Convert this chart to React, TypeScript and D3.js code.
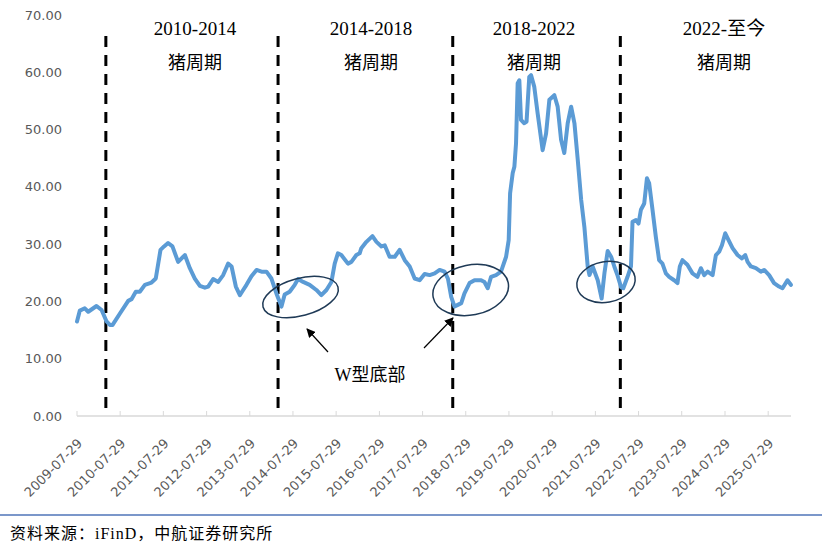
import React from "react";
import * as d3 from "d3";

const dates: string[] = [
  "2009-07-29","2009-08-22","2009-10-03","2009-11-01","2010-01-10","2010-02-22","2010-04-05","2010-05-03","2010-05-26","2010-07-27",
  "2010-10-05","2010-11-02","2010-12-08","2011-01-11","2011-02-23","2011-04-20","2011-05-26","2011-07-05","2011-08-04","2011-09-07",
  "2011-10-14","2011-12-01","2012-01-27","2012-03-09","2012-04-20","2012-06-02","2012-07-14","2012-08-11","2012-09-22","2012-11-04",
  "2012-12-16","2013-01-27","2013-02-25","2013-04-02","2013-05-06","2013-06-03","2013-07-01","2013-08-12","2013-09-24","2013-11-05",
  "2013-12-17","2014-01-28","2014-03-11","2014-04-23","2014-05-20","2014-07-01","2014-08-13","2014-09-10","2014-10-23","2014-12-17",
  "2015-02-12","2015-03-26","2015-05-08","2015-06-19","2015-07-17","2015-08-13","2015-09-11","2015-11-06","2015-12-05","2016-01-16",
  "2016-02-13","2016-02-27","2016-04-10","2016-05-31","2016-07-04","2016-08-15","2016-09-12","2016-10-23","2016-12-06","2017-01-16",
  "2017-02-28","2017-04-11","2017-05-23","2017-07-04","2017-08-15","2017-09-27","2017-11-08","2017-12-20","2018-01-31","2018-02-28",
  "2018-03-28","2018-04-25","2018-05-23","2018-06-21","2018-07-18","2018-08-30","2018-10-11","2018-12-06","2019-01-03","2019-01-31",
  "2019-02-28","2019-04-11","2019-05-23","2019-07-05","2019-07-27","2019-08-08","2019-08-30","2019-09-13","2019-09-27","2019-10-11",
  "2019-10-25","2019-11-08","2019-12-06","2019-12-25","2020-01-17","2020-02-01","2020-02-28","2020-03-28","2020-05-09","2020-06-07",
  "2020-07-05","2020-08-16","2020-09-13","2020-10-12","2020-11-08","2020-12-07","2021-01-05","2021-02-02","2021-03-02","2021-03-31",
  "2021-04-27","2021-05-25","2021-06-09","2021-07-06","2021-08-18","2021-09-20","2021-10-14","2021-11-10","2021-12-09","2022-01-05",
  "2022-02-02","2022-03-03","2022-03-22","2022-04-27","2022-05-26","2022-06-08","2022-07-07","2022-07-29","2022-08-18","2022-09-15",
  "2022-10-08","2022-10-27","2022-11-24","2022-12-22","2023-01-19","2023-02-16","2023-03-17","2023-04-14","2023-05-26","2023-06-23",
  "2023-07-13","2023-08-04","2023-09-15","2023-10-28","2023-12-09","2024-01-07","2024-02-04","2024-03-04","2024-04-15","2024-05-13",
  "2024-06-10","2024-07-03","2024-07-31","2024-08-28","2024-10-01","2024-11-12","2024-12-19","2025-01-16","2025-02-05","2025-03-05",
  "2025-04-16","2025-05-28","2025-06-25","2025-08-06","2025-09-17","2025-10-29","2025-11-27","2026-01-08","2026-02-06"
];

const prices: number[] = [
  16.5,18.4,18.8,18.2,19.2,18.5,16.5,15.9,15.9,17.9,
  20.1,20.4,21.7,21.7,22.9,23.3,24.0,29.0,29.6,30.2,
  29.6,26.9,28.1,25.8,24.0,22.7,22.4,22.6,23.9,23.4,
  24.6,26.6,26.1,22.6,21.1,22.0,22.9,24.4,25.5,25.2,
  25.2,24.0,21.4,19.1,21.2,21.7,22.9,23.9,23.4,22.9,
  22.0,21.1,22.0,23.4,26.6,28.4,28.1,26.6,26.9,28.1,
  28.4,29.3,30.4,31.4,30.4,29.6,29.8,27.8,27.8,29.0,
  27.2,26.1,24.0,23.7,24.8,24.6,24.9,25.5,25.2,24.0,
  20.8,19.1,19.4,19.7,21.4,23.2,23.7,23.7,23.4,22.3,
  24.3,24.6,25.2,27.8,30.7,38.9,42.4,43.5,47.6,58.1,
  58.6,51.7,51.1,51.4,59.2,59.5,57.5,52.8,46.4,49.3,
  55.2,56.0,54.0,48.2,45.9,51.1,54.0,51.1,44.7,37.7,
  33.0,26.1,24.6,26.1,23.7,20.5,25.0,28.8,27.8,26.1,
  24.5,22.5,22.3,24.3,26.1,33.9,34.2,33.6,36.0,37.1,
  41.5,40.6,36.0,31.3,27.2,26.6,24.9,24.3,23.7,23.2,
  26.1,27.2,26.4,24.9,24.3,25.8,24.6,25.2,24.6,28.1,
  28.7,29.8,31.9,30.7,29.3,28.1,27.5,28.1,26.9,26.1,
  25.8,25.2,25.5,24.6,23.2,22.6,22.3,23.7,22.9
];

const tickLabels: string[] = [
  "2009-07-29","2010-07-29","2011-07-29","2012-07-29","2013-07-29","2014-07-29",
  "2015-07-29","2016-07-29","2017-07-29","2018-07-29","2019-07-29","2020-07-29",
  "2021-07-29","2022-07-29","2023-07-29","2024-07-29","2025-07-29"
];

const yTicks: number[] = [0, 10, 20, 30, 40, 50, 60, 70];

const cycleBreaks: string[] = ["2010-03-30", "2014-03-25", "2018-04-10", "2022-02-25"];
const cycleTitles: string[] = ["2010-2014", "2014-2018", "2018-2022", "2022-至今"];
const cycleSub: string = "猪周期";
const annotationText: string = "W型底部";
const sourceText: string = "资料来源：iFinD，中航证券研究所";

const parse = d3.timeParse("%Y-%m-%d");

export default function App() {
  const W = 822, H = 551;
  const x = d3.scaleTime()
    .domain([parse("2009-07-29")!, parse("2026-02-07")!])
    .range([77, 791]);
  const y = d3.scaleLinear().domain([0, 70]).range([416, 15]);

  const data = dates.map((d, i) => ({ date: parse(d)!, v: prices[i] }));
  const line = d3.line<{ date: Date; v: number }>()
    .x(d => x(d.date))
    .y(d => y(d.v));

  const titleX = [195, 371, 534, 724];
  const serif = "'Liberation Serif', 'Times New Roman', 'Noto Sans CJK SC', serif";
  const sans = "'DejaVu Sans', sans-serif";

  const ellipses = [
    { cx: 300.5, cy: 297, rx: 38.8, ry: 18.7, rot: -15 },
    { cx: 470.7, cy: 290, rx: 38.2, ry: 25, rot: -11 },
    { cx: 606, cy: 282, rx: 29.4, ry: 20.3, rot: -10 },
  ];
  const arrows = [
    { x1: 328, y1: 352, x2: 307, y2: 329 },
    { x1: 424, y1: 348, x2: 453, y2: 318 },
  ];

  return (
    <svg width={W} height={H} style={{ position: "absolute", left: 0, top: 0, background: "#fff" }}>
      <defs>
        <marker id="ah" viewBox="0 0 10 10" refX="9" refY="5" markerWidth="9" markerHeight="9"
          markerUnits="userSpaceOnUse" orient="auto">
          <path d="M0,0 L10,5 L0,10 z" fill="#000" />
        </marker>
      </defs>
      <rect x={0} y={0} width={W} height={H} fill="#fff" />

      {yTicks.map(t => (
        <text key={t} x={62} y={y(t)} dy="0.35em" textAnchor="end"
          fontFamily={sans} fontSize={13} fill="#595959">{t.toFixed(2)}</text>
      ))}

      <line x1={77} x2={791} y1={416} y2={416} stroke="#d9d9d9" strokeWidth={1.5} />
      {tickLabels.map(t => {
        const tx = x(parse(t)!);
        return (
          <g key={t}>
            <line x1={tx} x2={tx} y1={411} y2={416} stroke="#d9d9d9" strokeWidth={1} />
            <text transform={`translate(${tx + 3},${441}) rotate(-45)`} textAnchor="end" dy="0.35em"
              fontFamily={sans} fontSize={13} fill="#595959">{t}</text>
          </g>
        );
      })}

      {cycleBreaks.map(b => {
        const bx = x(parse(b)!);
        return <line key={b} x1={bx} x2={bx} y1={36} y2={416} stroke="#000" strokeWidth={3} strokeDasharray="11 8" />;
      })}

      <path d={line(data) || ""} fill="none" stroke="#5b9bd5" strokeWidth={4}
        strokeLinejoin="round" strokeLinecap="round" />

      {cycleTitles.map((t, i) => (
        <g key={t}>
          <text x={titleX[i]} y={35} textAnchor="middle" fontFamily={serif} fontSize={19} fill="#000">{t}</text>
          <text x={titleX[i]} y={69} textAnchor="middle" fontFamily={serif} fontSize={18} fill="#000">{cycleSub}</text>
        </g>
      ))}

      {ellipses.map((e, i) => (
        <ellipse key={i} cx={e.cx} cy={e.cy} rx={e.rx} ry={e.ry}
          transform={`rotate(${e.rot},${e.cx},${e.cy})`} fill="none" stroke="#1f3a56" strokeWidth={1.5} />
      ))}

      {arrows.map((a, i) => (
        <line key={i} x1={a.x1} y1={a.y1} x2={a.x2} y2={a.y2} stroke="#000" strokeWidth={1.2} markerEnd="url(#ah)" />
      ))}
      <text x={370} y={381} textAnchor="middle" fontFamily={serif} fontSize={18} fill="#000">{annotationText}</text>

      <line x1={0} x2={W} y1={515} y2={515} stroke="#4f75b8" strokeWidth={1.5} />
      <text x={10} y={539} fontFamily={serif} fontSize={16} letterSpacing={1} fill="#000">{sourceText}</text>
    </svg>
  );
}
